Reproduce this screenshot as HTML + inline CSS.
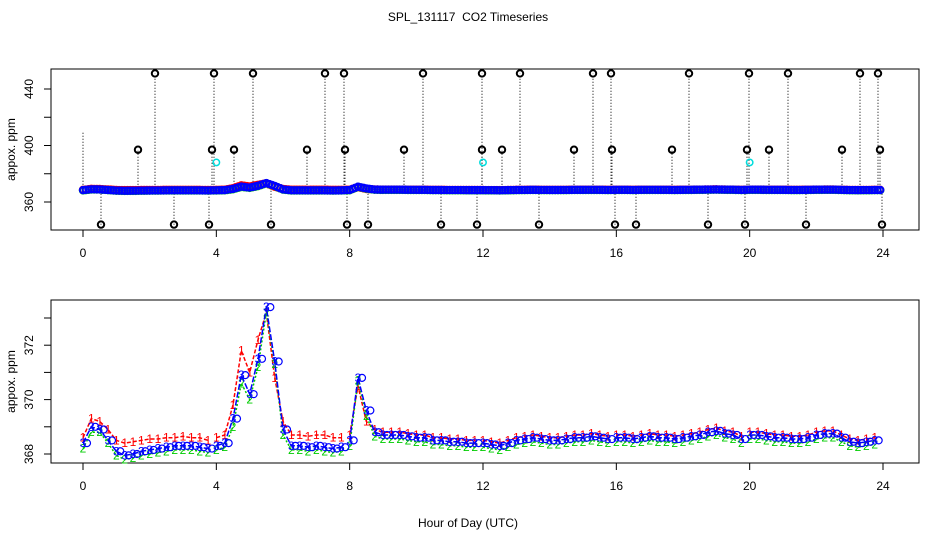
<!DOCTYPE html>
<html><head><meta charset="utf-8"><style>
body{margin:0;background:#fff;}
svg text{font-family:"Liberation Sans",sans-serif;font-size:12px;fill:#000;}
</style></head><body>
<svg id="chart" width="936" height="540" xmlns="http://www.w3.org/2000/svg">
<text x="468" y="21" text-anchor="middle" xml:space="preserve">SPL_131117  CO2 Timeseries</text>
<text x="468" y="527" text-anchor="middle">Hour of Day (UTC)</text>
<g id="topPanel"></g>
<g id="botPanel"></g>
</svg>
<script>
const hours=[];for(let i=0;i<96;i++)hours.push(i*0.25);
const series3=[368.4,369.0,368.9,368.5,368.1,367.95,368.0,368.1,368.15,368.2,368.25,368.3,368.3,368.3,368.25,368.2,
368.3,368.4,369.3,370.9,370.2,371.5,373.4,371.4,368.9,368.3,368.3,368.25,368.3,368.25,368.2,368.25,
368.5,370.8,369.6,368.8,368.7,368.7,368.7,368.65,368.6,368.6,368.5,368.5,368.45,368.45,368.4,368.4,
368.4,368.35,368.3,368.4,368.5,368.55,368.6,368.55,368.5,368.5,368.55,368.6,368.6,368.65,368.6,368.55,
368.6,368.6,368.55,368.6,368.65,368.6,368.6,368.55,368.6,368.65,368.7,368.8,368.85,368.75,368.7,368.55,
368.7,368.7,368.65,368.6,368.6,368.55,368.55,368.6,368.7,368.75,368.75,368.6,368.45,368.4,368.45,368.5];
const series1=[368.6,369.3,369.2,368.9,368.5,368.4,368.45,368.5,368.55,368.55,368.6,368.6,368.65,368.6,368.6,368.5,
368.6,368.7,369.8,371.8,371.0,372.2,373.2,370.8,369.2,368.7,368.7,368.65,368.7,368.7,368.6,368.6,
368.7,370.5,369.2,368.9,368.8,368.8,368.8,368.75,368.7,368.7,368.6,368.6,368.55,368.55,368.5,368.5,
368.5,368.45,368.4,368.5,368.6,368.65,368.7,368.65,368.6,368.6,368.65,368.7,368.7,368.75,368.7,368.65,
368.7,368.7,368.65,368.7,368.75,368.7,368.7,368.65,368.7,368.75,368.8,368.9,368.95,368.85,368.8,368.65,
368.8,368.8,368.75,368.7,368.7,368.65,368.65,368.7,368.8,368.85,368.85,368.7,368.55,368.5,368.55,368.6];
const series2=[368.2,368.8,368.8,368.4,367.95,367.8,367.85,367.95,368.0,368.05,368.1,368.15,368.15,368.15,368.1,368.05,
368.15,368.25,369.0,370.6,370.0,371.2,373.2,371.3,368.7,368.15,368.15,368.1,368.15,368.1,368.05,368.1,
368.3,370.7,369.4,368.65,368.55,368.55,368.55,368.5,368.45,368.45,368.35,368.35,368.3,368.3,368.25,368.25,
368.25,368.2,368.15,368.25,368.35,368.4,368.45,368.4,368.35,368.35,368.4,368.45,368.45,368.5,368.45,368.4,
368.45,368.45,368.4,368.45,368.5,368.45,368.45,368.4,368.45,368.5,368.55,368.65,368.7,368.6,368.55,368.4,
368.55,368.55,368.5,368.45,368.45,368.4,368.4,368.45,368.55,368.6,368.6,368.45,368.3,368.25,368.3,368.35];
const spikeHours=[2.16,3.93,5.1,7.26,7.83,10.2,11.97,13.11,15.3,15.84,18.18,19.98,21.15,23.31,23.85,
1.65,3.87,4.53,6.72,7.86,9.63,11.97,12.57,14.73,15.87,17.67,19.92,20.58,22.77,23.91,
0.54,2.73,3.78,5.64,7.92,8.55,10.74,11.82,13.68,15.96,16.59,18.75,19.86,21.69,23.97];
const spikeValues=[451,451,451,451,451,451,451,451,451,451,451,451,451,451,451,
397,397,397,397,397,397,397,397,397,397,397,397,397,397,397,
344,344,344,344,344,344,344,344,344,344,344,344,344,344,344];
const cyanHours=[4.0,12.0,20.0];
const cyanValues=[388,388,388];
const xTicks=[0,4,8,12,16,20,24];
const topYTicks=[360,380,400,420,440];
const topYLabels=[360,400,440];
const botYTicks=[368,369,370,371,372,373];
const botYLabels=[368,370,372];

const NS="http://www.w3.org/2000/svg";
function mk(parent,tag,attrs,txt){const e=document.createElementNS(NS,tag);for(const k in attrs)e.setAttribute(k,attrs[k]);if(txt!==undefined)e.textContent=txt;parent.appendChild(e);return e;}
const X0=51,X1=919;
const xs=h=>83+h*(800/24);
const ysTop=v=>202-(v-360)*1.4125;
const ysBot=v=>454-(v-368)*27.2;

function axes(g,y0,y1,ys,ticks,labels,name){
  let r=mk(g,'rect',{x:X0,y:y0,width:X1-X0,height:y1-y0,fill:'none',stroke:'#000','stroke-width':1});
  
  
  xTicks.forEach(t=>{
    let l=mk(g,'line',{x1:xs(t),x2:xs(t),y1:y1,y2:y1+7,stroke:'#000'});
    
    
    let tx=mk(g,'text',{x:xs(t),y:y1+27,'text-anchor':'middle'},String(t));
    
    
  });
  ticks.forEach(t=>{
    let l=mk(g,'line',{x1:X0-7,x2:X0,y1:ys(t),y2:ys(t),stroke:'#000'});
    
    
  });
  labels.forEach(t=>{
    let tx=mk(g,'text',{x:0,y:0,'text-anchor':'middle',transform:`translate(33,${ys(t)}) rotate(-90)`},String(t));
    
    
  });
  let yt=mk(g,'text',{x:0,y:0,'text-anchor':'middle',transform:`translate(15,${(y0+y1)/2}) rotate(-90)`},'appox. ppm');
  
  
}
const topG=document.getElementById('topPanel'),botG=document.getElementById('botPanel');
axes(topG,69,230,ysTop,topYTicks,topYLabels,'top');
axes(botG,300,463,ysBot,botYTicks,botYLabels,'bottom');

spikeHours.forEach((h,i)=>{
  let l=mk(topG,'line',{x1:xs(h),x2:xs(h),y1:ysTop(368),y2:ysTop(spikeValues[i]),stroke:'#000','stroke-dasharray':'1,2'});
  
  
});
const vl=mk(topG,'line',{x1:xs(0),x2:xs(0),y1:ysTop(368),y2:ysTop(410),stroke:'#000','stroke-dasharray':'1,2'});


[[series1,'#f00'],[series2,'#0c0'],[series3,'#00f']].forEach(([s,c],k)=>{
  for(let i=0;i<hours.length;i++){for(let j=0;j<3;j++){
    const h=hours[i]+j*0.0833;
    const v=i<hours.length-1?s[i]+(s[i+1]-s[i])*j/3:s[i];
    let p=mk(topG,'circle',{cx:xs(h),cy:ysTop(v),r:3.2,fill:'none',stroke:c,'stroke-width':2});
    
    
  }}
});
spikeHours.forEach((h,i)=>{
  let p=mk(topG,'circle',{cx:xs(h),cy:ysTop(spikeValues[i]),r:3.2,fill:'none',stroke:'#000','stroke-width':2});
  
  
});
cyanHours.forEach((h,i)=>{
  let p=mk(topG,'circle',{cx:xs(h),cy:ysTop(cyanValues[i]),r:3.2,fill:'none',stroke:'#0dd','stroke-width':1.5});
  
  
});

[[series1,'#f00','1','4,2'],[series2,'#0c0','2','2,2'],[series3,'#00f','3','6,2']].forEach(([s,c,ch,da])=>{
  let d='';
  hours.forEach((h,i)=>{d+=(i===0||h%4===0?'M':'L')+xs(h).toFixed(1)+','+ysBot(s[i]).toFixed(1);});
  let p=mk(botG,'path',{d:d,fill:'none',stroke:c,'stroke-width':1.5,'stroke-dasharray':da});
  
  
  hours.forEach((h,i)=>{
    let t=mk(botG,'text',{x:xs(h),y:ysBot(s[i])+4,'text-anchor':'middle',style:'fill:'+c},ch);
    
    
    if(ch==='3'){
      let o=mk(botG,'circle',{cx:xs(h)+4,cy:ysBot(s[i]),r:3.5,fill:'none',stroke:c,'stroke-width':1.2});
      
      
    }
  });
});
</script>
</body></html>
